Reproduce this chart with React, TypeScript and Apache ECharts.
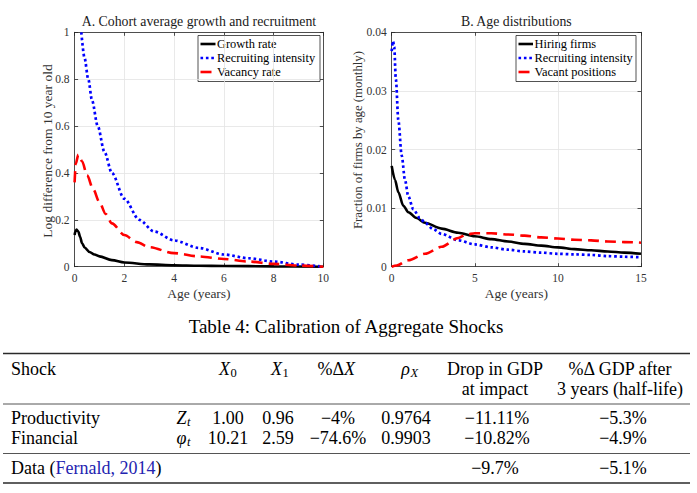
import React, { useEffect, useRef } from 'react';
import * as echarts from 'echarts';

const SERIF = 'Liberation Serif';
const AXIS_COLOR = '#262626';
const GRID_COLOR = '#e3e3e3';

// ---------- Panel A: Cohort average growth and recruitment ----------
const panelATitle = 'A. Cohort average growth and recruitment';
const panelAYName = 'Log difference from 10 year old';
const growthAge = [0, 0.03, 0.08, 0.15, 0.22, 0.3, 0.4, 0.6, 0.8, 1, 1.5, 2, 3, 4, 5, 6, 8, 10];
const growthVal = [0.135, 0.15, 0.158, 0.15, 0.128, 0.1, 0.082, 0.063, 0.052, 0.044, 0.028, 0.018, 0.01, 0.006, 0.004, 0.003, 0.0015, 0];
const recruitAAge = [0.27, 0.4, 0.55, 0.7, 0.93, 1.2, 1.5, 2, 2.6, 3.2, 4, 5, 6, 7, 8, 9, 10];
const recruitAVal = [1.0, 0.89, 0.8, 0.71, 0.6, 0.49, 0.4, 0.29, 0.2, 0.15, 0.112, 0.08, 0.052, 0.036, 0.022, 0.009, 0];
const vacancyAge = [0, 0.05, 0.15, 0.3, 0.5, 0.75, 1, 1.25, 1.5, 2, 2.5, 3, 4, 5, 6, 7, 8, 9, 10];
const vacancyVal = [0.36, 0.44, 0.478, 0.45, 0.39, 0.33, 0.275, 0.225, 0.185, 0.135, 0.105, 0.083, 0.058, 0.044, 0.033, 0.022, 0.012, 0.005, 0];
const legendA = ['Growth rate', 'Recruiting intensity', 'Vacancy rate'];

// ---------- Panel B: Age distributions ----------
const panelBTitle = 'B. Age distributions';
const panelBYName = 'Fraction of firms by age (monthly)';
const hiringAge = [0, 0.2, 0.4, 0.7, 1, 1.5, 2, 3, 4, 5, 6, 7, 8, 9, 10, 11, 12, 13, 14, 15];
const hiringVal = [0.0172, 0.0148, 0.0127, 0.0104, 0.0093, 0.0083, 0.0075, 0.0065, 0.0058, 0.0052, 0.0047, 0.0043, 0.0039, 0.0036, 0.0033, 0.003, 0.0028, 0.0026, 0.0024, 0.0022];
const recruitBAge = [0, 0.08, 0.15, 0.25, 0.4, 0.6, 0.8, 1, 1.3, 1.7, 2, 2.5, 3, 4, 5, 6, 7, 8, 9, 10, 11, 12, 13, 14, 15];
const recruitBVal = [0.0368, 0.0385, 0.0375, 0.032, 0.025, 0.019, 0.0148, 0.012, 0.0098, 0.0083, 0.0075, 0.0064, 0.0056, 0.0045, 0.0038, 0.0033, 0.0029, 0.0026, 0.0024, 0.0022, 0.0021, 0.002, 0.0018, 0.0017, 0.0016];
const vacantAge = [0, 0.3, 1, 2, 3, 4, 4.5, 5, 6, 7, 8, 9, 10, 11, 12, 13, 14, 15];
const vacantVal = [0, 0.0002, 0.0011, 0.0022, 0.0034, 0.0049, 0.0055, 0.0057, 0.0057, 0.0055, 0.0053, 0.005, 0.0048, 0.0046, 0.0045, 0.0043, 0.0042, 0.0041];
const legendB = ['Hiring firms', 'Recruiting intensity', 'Vacant positions'];

const xAxisName = 'Age (years)';

// ---------- Table ----------
const tableTitle = 'Table 4: Calibration of Aggregate Shocks';
const shockNames = ['Productivity', 'Financial'];
const shockSymbols = ['Z', 'φ'];
const colX0 = ['1.00', '10.21'];
const colX1 = ['0.96', '2.59'];
const colPctX = ['−4%', '−74.6%'];
const colRho = ['0.9764', '0.9903'];
const colDrop = ['−11.11%', '−10.82%'];
const colAfter = ['−5.3%', '−4.9%'];
const dataDrop = '−9.7%';
const dataAfter = '−5.1%';

const zip = (xs: number[], ys: number[]) => xs.map((x, i) => [x, ys[i]]);

const COLORS = { black: '#000000', blue: '#0000ff', red: '#ff0000' };
const STYLES = {
  solid: { color: COLORS.black, width: 2.6, type: 'solid' as any },
  dotted: { color: COLORS.blue, width: 2.7, type: [2.6, 2.8] as any },
  dashed: { color: COLORS.red, width: 2.6, type: [11, 6] as any },
};

function txt(x: number, y: number, text: string, size: number, opts: any = {}) {
  return {
    type: 'text',
    x,
    y,
    silent: true,
    rotation: opts.rotation || 0,
    style: {
      text,
      fontFamily: SERIF,
      fontSize: size,
      fontStyle: opts.italic ? 'italic' : 'normal',
      fill: opts.color || '#000',
      align: opts.align || 'left',
      textAlign: opts.align || 'left',
      verticalAlign: 'middle',
      textVerticalAlign: 'middle',
    },
  };
}

function hline(x1: number, x2: number, y: number, w: number) {
  return { type: 'line', silent: true, shape: { x1, y1: y, x2, y2: y }, style: { stroke: '#2a2a2a', lineWidth: w } };
}

function legendBox(left: number, right: number, top: number, bottom: number, lineX1: number, lineX2: number, rowsY: number[], labels: string[]) {
  const els: any[] = [
    { type: 'rect', silent: true, shape: { x: left, y: top, width: right - left, height: bottom - top }, style: { fill: '#fff', stroke: '#262626', lineWidth: 0.8 } },
  ];
  const st = [STYLES.solid, STYLES.dotted, STYLES.dashed];
  rowsY.forEach((y, i) => {
    els.push({
      type: 'line', silent: true,
      shape: { x1: lineX1, y1: y, x2: lineX2, y2: y },
      style: { stroke: st[i].color, lineWidth: st[i].width, lineDash: st[i].type === 'solid' ? null : st[i].type },
    });
    els.push(txt(lineX2 + 1.5, y, labels[i], 12.4));
  });
  return els;
}

function axisPair(gridIndex: number, max: number, interval: number, isX: boolean) {
  const common = {
    gridIndex, type: 'value', min: 0, max, interval,
    axisLine: { show: true, onZero: false, lineStyle: { color: AXIS_COLOR, width: 0.8 } },
    axisTick: { show: true, inside: true, length: 3.5, lineStyle: { color: AXIS_COLOR, width: 0.8 } },
  };
  return [
    {
      ...common,
      position: isX ? 'bottom' : 'left',
      axisLabel: { color: '#333333', fontFamily: SERIF, fontSize: 11.5, margin: 5 },
      splitLine: { show: true, lineStyle: { color: GRID_COLOR, width: 0.8 } },
    },
    {
      ...common,
      position: isX ? 'top' : 'right',
      axisLabel: { show: false },
      splitLine: { show: false },
    },
  ];
}

export default function App() {
  const ref = useRef<HTMLDivElement>(null);
  useEffect(() => {
    document.body.style.margin = '0';
    const chart = echarts.init(ref.current!, undefined, { renderer: 'svg' });

    const gA = { left: 74.6, top: 32.3, width: 248.7, height: 234.4 };
    const gB = { left: 391.7, top: 32.3, width: 249.3, height: 234.4 };

    const graphics: any[] = [];
    // panel titles and axis names
    graphics.push(txt(gA.left + gA.width / 2, 21, panelATitle, 13.8, { align: 'center', color: '#1a1a1a' }));
    graphics.push(txt(gB.left + gB.width / 2, 21, panelBTitle, 13.8, { align: 'center', color: '#1a1a1a' }));
    graphics.push(txt(gA.left + gA.width / 2, 293, xAxisName, 13.5, { align: 'center', color: '#333333' }));
    graphics.push(txt(gB.left + gB.width / 2, 293, xAxisName, 13.5, { align: 'center', color: '#333333' }));
    graphics.push(txt(47, 151, panelAYName, 13.5, { align: 'center', rotation: Math.PI / 2, color: '#333333' }));
    graphics.push(txt(358, 140, panelBYName, 12.8, { align: 'center', rotation: Math.PI / 2, color: '#333333' }));
    // legends
    graphics.push(...legendBox(198, 320, 35.5, 81.5, 200.5, 215.5, [44, 58, 72], legendA));
    graphics.push(...legendBox(516, 636, 35.5, 81.5, 518.5, 533, [44, 58, 72], legendB));

    // table
    const T = 18;
    const yHead1 = 369, yHead2 = 389, yRow = [418, 438], yData = 468;
    graphics.push(txt(346, 326, tableTitle, 19, { align: 'center' }));
    graphics.push(hline(3, 690, 353.5, 1.6));
    graphics.push(hline(3, 690, 404, 0.8));
    graphics.push(hline(3, 690, 453.5, 0.8));
    graphics.push(hline(3, 690, 483, 1.6));
    graphics.push(txt(11, yHead1, 'Shock', T));
    graphics.push(txt(230, yHead1, 'X', T, { italic: true, align: 'right' }));
    graphics.push(txt(230.5, yHead1 + 4, '0', 12.5));
    graphics.push(txt(282, yHead1, 'X', T, { italic: true, align: 'right' }));
    graphics.push(txt(282.5, yHead1 + 4, '1', 12.5));
    graphics.push(txt(344, yHead1, '%Δ', T, { align: 'right' }));
    graphics.push(txt(344, yHead1, 'X', T, { italic: true }));
    graphics.push(txt(410, yHead1, 'ρ', T, { italic: true, align: 'right' }));
    graphics.push(txt(410.5, yHead1 + 4, 'X', 12.5, { italic: true }));
    graphics.push(txt(495, yHead1, 'Drop in GDP', T, { align: 'center' }));
    graphics.push(txt(495, yHead2, 'at impact', T, { align: 'center' }));
    graphics.push(txt(620, yHead1, '%Δ GDP after', T, { align: 'center' }));
    graphics.push(txt(620, yHead2, '3 years (half-life)', T, { align: 'center' }));
    shockNames.forEach((name, i) => {
      const y = yRow[i];
      graphics.push(txt(11, y, name, T));
      graphics.push(txt(186.5, y, shockSymbols[i], T, { italic: true, align: 'right' }));
      graphics.push(txt(187, y + 4, 't', 12.5, { italic: true }));
      graphics.push(txt(228, y, colX0[i], T, { align: 'center' }));
      graphics.push(txt(278, y, colX1[i], T, { align: 'center' }));
      graphics.push(txt(338, y, colPctX[i], T, { align: 'center' }));
      graphics.push(txt(406, y, colRho[i], T, { align: 'center' }));
      graphics.push(txt(497, y, colDrop[i], T, { align: 'center' }));
      graphics.push(txt(623, y, colAfter[i], T, { align: 'center' }));
    });
    graphics.push({
      type: 'text', x: 11, y: yData, silent: true,
      style: {
        text: '{a|Data (}{b|Fernald, 2014}{a|)}',
        fontFamily: SERIF, fontSize: T, fill: '#000',
        verticalAlign: 'middle', textVerticalAlign: 'middle',
        rich: {
          a: { fontFamily: SERIF, fontSize: T, fill: '#000', color: '#000' },
          b: { fontFamily: SERIF, fontSize: T, fill: '#2323b0', color: '#2323b0' },
        },
      },
    });
    graphics.push(txt(495, yData, dataDrop, T, { align: 'center' }));
    graphics.push(txt(623, yData, dataAfter, T, { align: 'center' }));

    const [xA, xA2] = axisPair(0, 10, 2, true);
    const [yA, yA2] = axisPair(0, 1, 0.2, false);
    const [xB, xB2] = axisPair(1, 15, 5, true);
    const [yB, yB2] = axisPair(1, 0.04, 0.01, false);

    const mk = (name: string, data: number[][], idx: number, st: any) => ({
      name, type: 'line', data, xAxisIndex: idx, yAxisIndex: idx,
      showSymbol: false, symbol: 'none', smooth: 0.3, smoothMonotone: 'x',
      lineStyle: { ...st, cap: 'butt' }, silent: true, z: 3,
    });

    chart.setOption({
      animation: false,
      backgroundColor: '#ffffff',
      textStyle: { fontFamily: SERIF },
      grid: [
        { ...gA, containLabel: false },
        { ...gB, containLabel: false },
      ],
      xAxis: [xA, xA2, xB, xB2],
      yAxis: [yA, yA2, yB, yB2],
      series: [
        mk(legendA[0], zip(growthAge, growthVal), 0, STYLES.solid),
        mk(legendA[1], zip(recruitAAge, recruitAVal), 0, STYLES.dotted),
        mk(legendA[2], zip(vacancyAge, vacancyVal), 0, STYLES.dashed),
        mk(legendB[0], zip(hiringAge, hiringVal), 2, STYLES.solid),
        mk(legendB[1], zip(recruitBAge, recruitBVal), 2, STYLES.dotted),
        mk(legendB[2], zip(vacantAge, vacantVal), 2, STYLES.dashed),
      ],
      graphic: graphics,
    });
    return () => chart.dispose();
  }, []);
  return <div ref={ref} style={{ position: 'absolute', left: 0, top: 0, width: 697, height: 493, background: '#fff' }} />;
}
